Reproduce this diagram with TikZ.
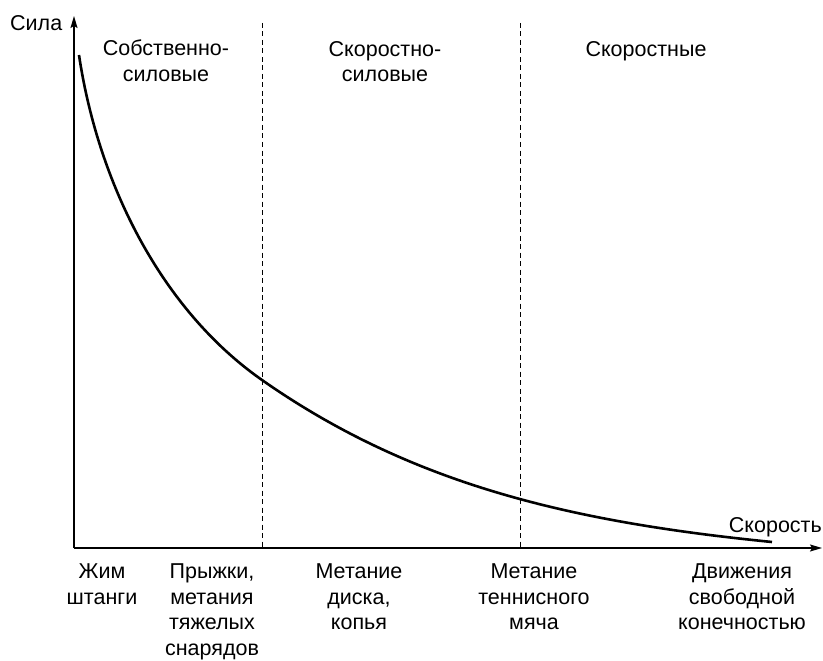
\documentclass[tikz,border=0pt]{standalone}
\usepackage{fontspec}
\setmainfont{Liberation Sans}
\usetikzlibrary{arrows.meta}

\begin{document}
\begin{tikzpicture}[x=1pt, y=-1pt,
    axis/.style={line width=1.3pt, -{Stealth[length=12pt, width=7pt, inset=2pt]}},
    zone/.style={line width=0.8pt, dash pattern=on 5pt off 3.5pt},
    lbl/.style={anchor=north, align=center, inner sep=0pt, font=\fontsize{21.5}{25.5}\selectfont}]
\useasboundingbox (0,0) rectangle (823,661);

% Set the axes
\coordinate (orig) at (74,548);
\coordinate (ytop) at (74,16);
\coordinate (xend) at (822,548);
\draw[axis] (orig) -- (ytop);
\draw[axis] (orig) -- (xend);

% Draw the zone borders
\coordinate (z1top) at (262,23);
\coordinate (z1bot) at (262,548);
\coordinate (z2top) at (520,23);
\coordinate (z2bot) at (520,548);
\draw[zone] (z1top) -- (z1bot);
\draw[zone] (z2top) -- (z2bot);

% Draw the curve
\coordinate (cstart) at (79,55);
\coordinate (cmid) at (262,380);
\coordinate (cend) at (772,542);
\draw[line width=2.6pt] (cstart) .. controls (98.5,185) and (162,310) .. (cmid)
    .. controls (412,485) and (572,522) .. (cend);

% Axis labels
\node[lbl, anchor=north west] (sila) at (10,15) {Сила};
\node[lbl, anchor=north east] (skorost) at (822,517) {Скорость};

% Zone names
\node[lbl] (zone1) at (166,40) {Собственно-\\силовые};
\node[lbl] (zone2) at (385,41) {Скоростно-\\силовые};
\node[lbl] (zone3) at (646,41) {Скоростные};

% Exercises
\node[lbl] (ex1) at (102,564) {Жим\\штанги};
\node[lbl] (ex2) at (212,564) {Прыжки,\\метания\\тяжелых\\снарядов};
\node[lbl] (ex3) at (359,564) {Метание\\диска,\\копья};
\node[lbl] (ex4) at (534,564) {Метание\\теннисного\\мяча};
\node[lbl] (ex5) at (742,564) {Движения\\свободной\\конечностью};
\end{tikzpicture}
\end{document}
